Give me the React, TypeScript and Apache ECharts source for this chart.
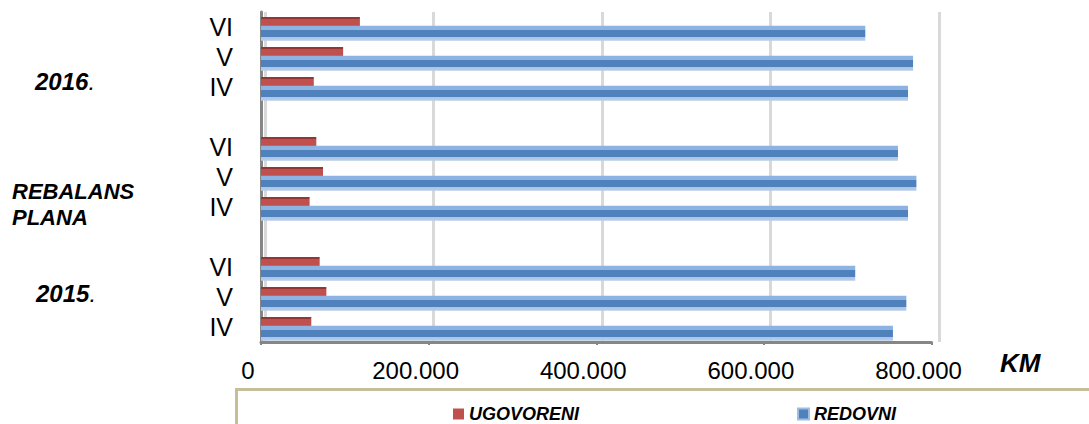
import React, { useEffect, useRef } from 'react';
import * as echarts from 'echarts';

const groupLabels = ['2015.', 'REBALANS PLANA', '2016.'];
const months = ['IV', 'V', 'VI'];
const seriesNames = ['UGOVORENI', 'REDOVNI'];
const ugovoreni2015 = [60000, 78000, 70000];
const ugovoreniRebalans = [58000, 74000, 66000];
const ugovoreni2016 = [63000, 98000, 118000];
const redovni2015 = [754000, 770000, 709000];
const redovniRebalans = [772000, 782000, 760000];
const redovni2016 = [772000, 778000, 721000];
const xTicks = [0, 200000, 400000, 600000, 800000];
const unitLabel = 'KM';

const FONT = "'Liberation Sans', Arial, sans-serif";

function buildRows(groups: number[][]) {
  const out: (number | null)[] = [];
  groups.forEach((g, gi) => {
    if (gi > 0) out.push(null);
    g.forEach((v) => out.push(v));
  });
  return out;
}

const categories: string[] = [];
groupLabels.forEach((g, gi) => {
  if (gi > 0) categories.push('gap' + gi);
  months.forEach((m) => categories.push(gi + '|' + m));
});

const ugData = buildRows([ugovoreni2015, ugovoreniRebalans, ugovoreni2016]);
const rdData = buildRows([redovni2015, redovniRebalans, redovni2016]);

const fmtNum = (v: number) => String(v).replace(/\B(?=(\d{3})+(?!\d))/g, '.');

export default function App() {
  const ref = useRef<HTMLDivElement>(null);
  useEffect(() => {
    if (!ref.current) return;
    const chart = echarts.init(ref.current, undefined, { renderer: 'svg' });
    const redGrad = new echarts.graphic.LinearGradient(0, 0, 0, 1, [
      { offset: 0, color: 'rgba(255,255,255,0)' },
      { offset: 0.28, color: 'rgba(255,255,255,0)' },
      { offset: 0.28, color: '#933634' },
      { offset: 0.42, color: '#933634' },
      { offset: 0.42, color: '#c0504d' },
      { offset: 1, color: '#c0504d' },
    ]);
    const blueGrad = new echarts.graphic.LinearGradient(0, 0, 0, 1, [
      { offset: 0, color: '#8db3e2' },
      { offset: 0.3, color: '#8db3e2' },
      { offset: 0.3, color: '#4f81bd' },
      { offset: 0.74, color: '#4f81bd' },
      { offset: 0.74, color: '#a9c4e6' },
      { offset: 1, color: '#b9cde5' },
    ]);
    const legendText = {
      fontFamily: FONT,
      fontSize: 18,
      fontWeight: 'bold' as const,
      fontStyle: 'italic' as const,
      color: '#000',
    };
    chart.setOption({
      animation: false,
      grid: [
        { left: 261, right: 157.5, top: 12, bottom: 82 },
        { left: 265, right: 150, top: 12, bottom: 82 },
      ],
      xAxis: [
        {
          gridIndex: 0,
          type: 'value',
          min: xTicks[0],
          max: xTicks[xTicks.length - 1],
          interval: xTicks[1] - xTicks[0],
          axisLine: { show: true, lineStyle: { color: '#868686', width: 3 } },
          axisTick: { show: true, length: 3, lineStyle: { color: '#868686', width: 2 } },
          splitLine: { show: false },
          axisLabel: {
            fontFamily: FONT,
            fontSize: 24,
            color: '#000',
            margin: 16,
            padding: [0, 26, 0, 0],
            formatter: (v: number) => fmtNum(v),
          },
        },
        {
          gridIndex: 1,
          type: 'value',
          min: xTicks[0],
          max: xTicks[xTicks.length - 1],
          interval: xTicks[1] - xTicks[0],
          axisLine: { show: false },
          axisTick: { show: false },
          axisLabel: { show: false },
          splitLine: { show: true, lineStyle: { color: '#d9d9d9', width: 3 } },
        },
      ],
      yAxis: [
        {
          gridIndex: 0,
          type: 'category',
          data: categories,
          axisLine: { show: true, lineStyle: { color: '#868686', width: 3 } },
          axisTick: { show: false },
          axisLabel: {
            fontFamily: FONT,
            fontSize: 25,
            color: '#000',
            margin: 28,
            interval: 0,
            formatter: (v: string) => (v.indexOf('|') >= 0 ? v.split('|')[1] : ''),
          },
        },
        {
          gridIndex: 1,
          type: 'category',
          data: categories,
          show: false,
        },
      ],
      legend: [
        {
          left: 448,
          top: 400,
          icon: 'rect',
          itemWidth: 11,
          itemHeight: 11,
          selectedMode: false,
          data: [{ name: seriesNames[0], itemStyle: { color: '#c0504d' } }],
          textStyle: legendText,
        },
        {
          left: 792,
          top: 400,
          icon: 'rect',
          itemWidth: 11,
          itemHeight: 11,
          selectedMode: false,
          data: [
            {
              name: seriesNames[1],
              itemStyle: { color: '#4f81bd', borderColor: '#9fbce2', borderWidth: 2 },
            },
          ],
          textStyle: legendText,
        },
      ],
      series: [
        {
          name: seriesNames[0],
          type: 'bar',
          xAxisIndex: 0,
          yAxisIndex: 0,
          data: ugData,
          barWidth: 14,
          barGap: '-10%',
          itemStyle: { color: redGrad },
        },
        {
          name: seriesNames[1],
          type: 'bar',
          xAxisIndex: 0,
          yAxisIndex: 0,
          data: rdData,
          barWidth: 15,
          barGap: '-10%',
          itemStyle: { color: blueGrad },
        },
      ],
      graphic: [
        {
          type: 'rect',
          silent: true,
          z: -1,
          shape: { x: 236.5, y: 389.5, width: 900, height: 100 },
          style: { fill: 'none', stroke: '#c6be99', lineWidth: 3 },
        },
        {
          type: 'text',
          x: 1000,
          y: 363,
          style: {
            text: unitLabel,
            fontFamily: FONT,
            fontSize: 26,
            fontWeight: 'bold',
            fontStyle: 'italic',
            fill: '#000',
            align: 'left',
            verticalAlign: 'middle',
          },
        },
        {
          type: 'text',
          x: 35,
          y: 81,
          style: {
            text: '{b|' + groupLabels[2].replace('.', '') + '}{n|.}',
            rich: {
              b: { fontFamily: FONT, fontSize: 24, fontWeight: 'bold', fontStyle: 'italic', fill: '#000' },
              n: { fontFamily: FONT, fontSize: 24, fontStyle: 'italic', fill: '#000' },
            },
            align: 'left',
            verticalAlign: 'middle',
          },
        },
        {
          type: 'text',
          x: 12,
          y: 204,
          style: {
            text: groupLabels[1].replace(' ', '\n'),
            fontFamily: FONT,
            fontSize: 22,
            lineHeight: 26,
            fontWeight: 'bold',
            fontStyle: 'italic',
            fill: '#000',
            align: 'left',
            verticalAlign: 'middle',
          },
        },
        {
          type: 'text',
          x: 36,
          y: 293,
          style: {
            text: '{b|' + groupLabels[0].replace('.', '') + '}{n|.}',
            rich: {
              b: { fontFamily: FONT, fontSize: 24, fontWeight: 'bold', fontStyle: 'italic', fill: '#000' },
              n: { fontFamily: FONT, fontSize: 24, fontStyle: 'italic', fill: '#000' },
            },
            align: 'left',
            verticalAlign: 'middle',
          },
        },
      ],
    });
    return () => chart.dispose();
  }, []);
  return (
    <div
      ref={ref}
      style={{ position: 'fixed', left: 0, top: 0, width: 1089, height: 424, background: '#fff' }}
    />
  );
}
